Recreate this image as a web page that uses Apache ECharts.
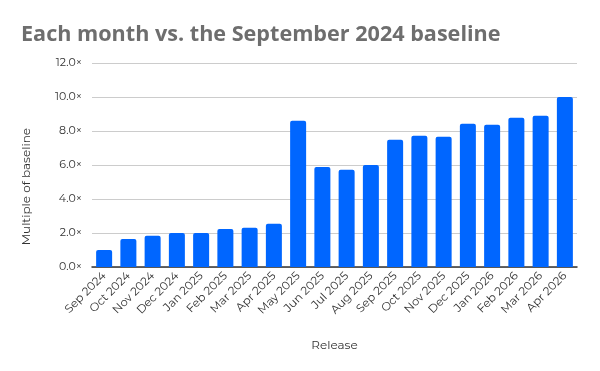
<!DOCTYPE html>
<html><head><meta charset="utf-8">
<script src="https://cdn.jsdelivr.net/npm/echarts@6/dist/echarts.min.js"></script>
<style>html,body{margin:0;padding:0;background:#fff}#c{width:600px;height:371px}</style>
</head><body><div id="c"></div>
<script>
const categories = ["Sep 2024","Oct 2024","Nov 2024","Dec 2024","Jan 2025","Feb 2025","Mar 2025","Apr 2025","May 2025","Jun 2025","Jul 2025","Aug 2025","Sep 2025","Oct 2025","Nov 2025","Dec 2025","Jan 2026","Feb 2026","Mar 2026","Apr 2026"];
const multiples = [1.0,1.65,1.84,2.0,2.0,2.24,2.31,2.55,8.61,5.88,5.72,6.0,7.49,7.72,7.66,8.43,8.37,8.78,8.9,10.0];
const yTicks = [0,2,4,6,8,10,12];
const titleText = "Each month vs. the September 2024 baseline";
const yName = "Multiple of baseline";
const xName = "Release";

const font = "Montserrat, 'Open Sans', Lato, sans-serif";
const chart = echarts.init(document.getElementById('c'), null, {renderer:'canvas'});
chart.setOption({
  animation:false,
  title:{text:titleText,left:16,top:19,textStyle:{fontFamily:"'Open Sans', sans-serif",fontWeight:'bold',fontSize:21.6,color:'#6e6e6e'}},
  grid:{left:92,right:23,top:63,bottom:104},
  xAxis:{type:'category',data:categories,
    axisTick:{show:false},
    axisLine:{lineStyle:{color:'#333',width:1.5}},
    axisLabel:{rotate:45,interval:0,fontSize:11.5,color:'#333',fontFamily:font,margin:7},
    name:xName,nameLocation:'middle',nameGap:72,nameTextStyle:{fontSize:12,color:'#333',fontFamily:font}
  },
  yAxis:{type:'value',min:yTicks[0],max:yTicks[yTicks.length-1],interval:2,
    axisLine:{show:false},axisTick:{show:false},
    splitLine:{lineStyle:{color:'#cccccc',width:1}},
    axisLabel:{fontSize:11,color:'#333',fontFamily:font,margin:10,formatter:v=>v.toFixed(1)+'×'}
  },
  graphic:[{type:'text',left:20,top:128,rotation:Math.PI/2,
    style:{text:yName,fontSize:12,fill:'#333',fontFamily:font}}],
  series:[{type:'bar',data:multiples,barWidth:16,itemStyle:{color:'#0066ff',borderRadius:[2,2,0,0]}}]
});
</script></body></html>
